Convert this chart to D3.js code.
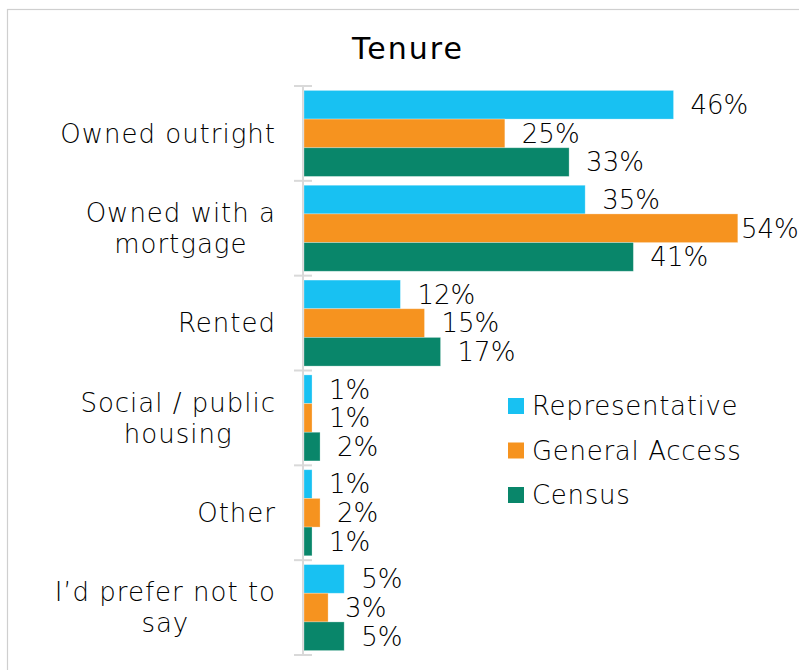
<!DOCTYPE html>
<html>
<head>
<meta charset="utf-8">
<script src="https://cdn.jsdelivr.net/npm/d3@7"></script>
<style>
  body { margin: 0; background: #fff; }
  svg { display: block; }
  text { font-family: "DejaVu Sans ExtraLight", "DejaVu Sans", sans-serif; font-weight: 200; fill: #000; }
  text.title { font-family: "DejaVu Sans", sans-serif; font-weight: 400; }
</style>
</head>
<body>
<svg id="chart" width="799" height="670"></svg>
<script>
// category labels (already split into the lines shown on the chart)
var categoryLines = [
  ["Owned outright"],
  ["Owned with a", "mortgage"],
  ["Rented"],
  ["Social / public", "housing"],
  ["Other"],
  ["I\u2019d prefer not to", "say"]
];
var seriesNames = ["Representative", "General Access", "Census"];
var seriesColors = ["#18C1F2", "#F6931F", "#09866A"];

// values in percent
var representative = [46, 35, 12, 1, 1, 5];
var generalAccess = [25, 54, 15, 1, 2, 3];
var census = [33, 41, 17, 2, 1, 5];

var seriesValues = [representative, generalAccess, census];

var svg = d3.select("#chart");

// outer frame (right and bottom edges fall outside the picture)
svg.append("rect")
  .attr("x", 7.5).attr("y", 9.5)
  .attr("width", 900).attr("height", 900)
  .attr("fill", "none")
  .attr("stroke", "#cfcfcf")
  .attr("stroke-width", 1.2);

// title
svg.append("text")
  .attr("class", "title")
  .attr("x", 408).attr("y", 59)
  .attr("text-anchor", "middle")
  .style("font-size", "30px")
  .style("letter-spacing", "2px")
  .text("Tenure");

var catIndex = d3.range(categoryLines.length);

var y0 = d3.scaleBand()
  .domain(catIndex)
  .range([86, 655])
  .paddingInner(0.093)
  .paddingOuter(0.0465);

var y1 = d3.scaleBand()
  .domain(d3.range(seriesNames.length))
  .range([0, y0.bandwidth()]);

var x = d3.scaleLinear()
  .domain([0, 60])
  .range([304, 786]);

// category boundaries for the axis ticks
var yEdge = d3.scaleLinear()
  .domain([0, categoryLines.length])
  .range([86, 655]);

var axis = svg.append("g").attr("class", "axis");
axis.append("line")
  .attr("x1", 303).attr("x2", 303)
  .attr("y1", yEdge(0)).attr("y2", yEdge(categoryLines.length))
  .attr("stroke", "#d9d9d9").attr("stroke-width", 2);
axis.selectAll("line.tick")
  .data(d3.range(categoryLines.length + 1))
  .enter().append("line")
  .attr("class", "tick")
  .attr("x1", 294).attr("x2", 312)
  .attr("y1", d => yEdge(d)).attr("y2", d => yEdge(d))
  .attr("stroke", "#d9d9d9").attr("stroke-width", 2);

// bars
var groups = svg.selectAll("g.cat")
  .data(catIndex)
  .enter().append("g")
  .attr("class", "cat")
  .attr("transform", d => "translate(0," + y0(d) + ")");

groups.each(function(ci) {
  var g = d3.select(this);
  var rows = seriesValues.map((vals, si) => ({ si: si, v: vals[ci] }));

  g.selectAll("rect")
    .data(rows)
    .enter().append("rect")
    .attr("x", x(0))
    .attr("y", d => y1(d.si))
    .attr("width", d => x(d.v) - x(0))
    .attr("height", y1.bandwidth())
    .attr("fill", d => seriesColors[d.si])
    .attr("stroke", "#ffffff")
    .attr("stroke-opacity", 0.35)
    .attr("stroke-width", 0.8);

  // the 54% label gets pushed back inside the frame, as in the original
  g.selectAll("text.val")
    .data(rows)
    .enter().append("text")
    .attr("class", "val")
    .attr("x", d => Math.min(x(d.v) + 17, 741))
    .attr("y", d => y1(d.si) + y1.bandwidth() / 2)
    .attr("dy", "0.36em")
    .style("font-size", "26px")
    .text(d => d.v + "%");
});

// category labels: lines centred on each other, block right-aligned
var lineH = 31;
catIndex.forEach(function(ci) {
  var lines = categoryLines[ci];
  var cy = y0(ci) + y0.bandwidth() / 2;
  var t = svg.append("text")
    .style("font-size", "26px")
    .style("letter-spacing", "1px");
  lines.forEach(function(line, li) {
    t.append("tspan")
      .attr("y", cy + (li - (lines.length - 1) / 2) * lineH)
      .attr("dy", "0.36em")
      .text(line);
  });
  var maxW = 0;
  t.selectAll("tspan").each(function() {
    maxW = Math.max(maxW, this.getComputedTextLength());
  });
  t.attr("text-anchor", "middle");
  t.selectAll("tspan").attr("x", 276 - maxW / 2);
});

// legend
var legend = svg.selectAll("g.legend")
  .data(seriesNames)
  .enter().append("g")
  .attr("class", "legend")
  .attr("transform", (d, i) => "translate(508," + (398 + i * 44.5) + ")");

legend.append("rect")
  .attr("width", 16).attr("height", 16)
  .attr("fill", (d, i) => seriesColors[i]);

legend.append("text")
  .attr("x", 24).attr("y", 8)
  .attr("dy", "0.36em")
  .style("font-size", "26px")
  .style("letter-spacing", "0.7px")
  .text(d => d);
</script>
</body>
</html>
